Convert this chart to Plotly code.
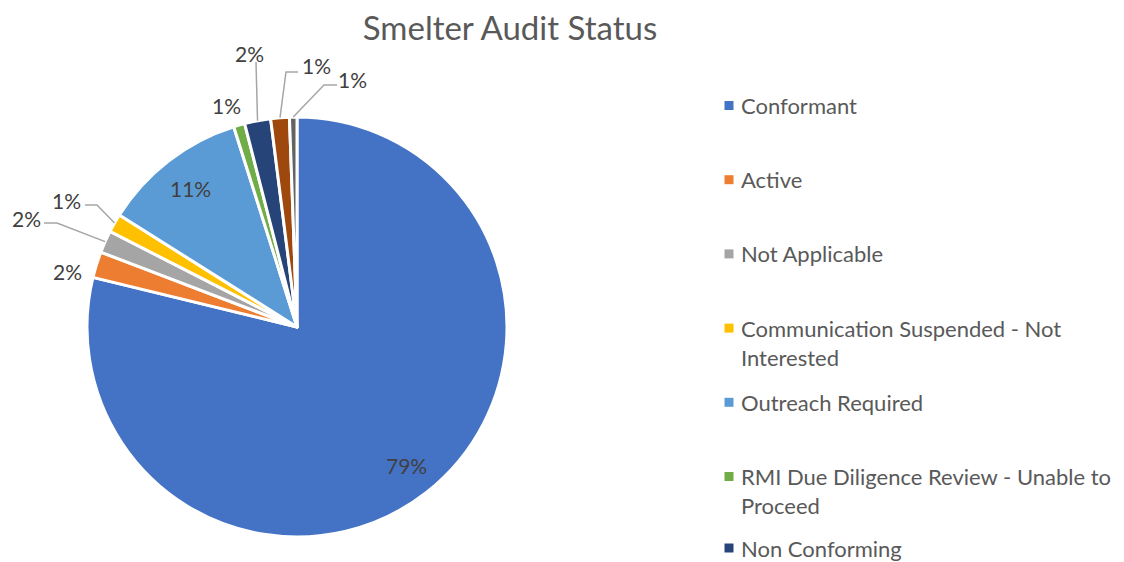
import math
import plotly.graph_objects as go

# ---- data ----
labels = [
    "Conformant",
    "Active",
    "Not Applicable",
    "Communication Suspended - Not Interested",
    "Outreach Required",
    "RMI Due Diligence Review - Unable to Proceed",
    "Non Conforming",
    "In Communication",
    "Not Eligible",
]
values = [275, 7, 6, 5, 39, 3, 7, 5, 2]
colors = ["#4472C4", "#ED7D31", "#A5A5A5", "#FFC000", "#5B9BD5",
          "#70AD47", "#264478", "#9E480E", "#636363"]
# legend entries as shown (the chart's legend is cut off after 7 items)
legend_labels = [
    "Conformant",
    "Active",
    "Not Applicable",
    "Communication Suspended - Not<br>Interested",
    "Outreach Required",
    "RMI Due Diligence Review - Unable to<br>Proceed",
    "Non Conforming",
]

# ---- layout (screen pixels; page has an 8px body margin at top/left) ----
SW, SH = 1124, 562
OFF = 8
W, H = SW - OFF, SH - OFF
FONT = "Lato"
TXT = "#404040"
LEG = "#595959"
LEADER = "#A6A6A6"


def px(x):
    return (x - OFF) / W


def py(y):
    return 1 - (y - OFF) / H


cx, cy, r = 297, 327, 210

# label placement per slice: ("in", radius factor) or ("out", label centre, leader elbow points)
label_layout = {
    0: ("in", 0.84),
    1: ("out", (67, 271), []),
    2: ("out", (26, 219), [(44, 223), (57, 223)]),
    3: ("out", (66, 200), [(85, 205), (97, 205)]),
    4: ("in", 0.83),
    5: ("out", (226, 106), []),
    6: ("out", (249, 53), [(256, 62)]),
    7: ("out", (316, 65), [(298, 72), (286, 72)]),
    8: ("out", (352, 80), [(337, 85), (324, 85)]),
}

fig = go.Figure()
fig.add_trace(go.Pie(
    labels=labels,
    values=values,
    sort=False,
    direction="clockwise",
    rotation=0,
    marker=dict(colors=colors, line=dict(color="white", width=3)),
    textinfo="none",
    showlegend=False,
    domain=dict(x=[px(cx - r), px(cx + r)],
                y=[py(cy + r), py(cy - r)]),
    hoverinfo="label+percent+value",
))

shapes = []
annotations = []

# data labels (percentages computed from the values)
total = sum(values)
cum = 0
for i, v in enumerate(values):
    frac_mid = (cum + v / 2) / total
    cum += v
    theta = 2 * math.pi * frac_mid
    pct = f"{round(100 * v / total)}%"
    spec = label_layout[i]
    if spec[0] == "in":
        k = spec[1]
        lx = cx + k * r * math.sin(theta)
        ly = cy - k * r * math.cos(theta)
    else:
        lx, ly = spec[1]
        pts = spec[2]
        if pts:
            ex = cx + r * math.sin(theta)
            ey = cy - r * math.cos(theta)
            allp = pts + [(ex, ey)]
            path = "M " + " L ".join(f"{px(a):.5f},{py(b):.5f}" for a, b in allp)
            shapes.append(dict(type="path", xref="paper", yref="paper",
                               path=path, line=dict(color=LEADER, width=1.5)))
    annotations.append(dict(text=pct, xref="paper", yref="paper",
                            x=px(lx), y=py(ly), xanchor="center",
                            yanchor="middle", showarrow=False,
                            font=dict(family=FONT, size=21, color=TXT)))

# legend drawn as layout decoration
first_line_y = [105.5, 179.7, 253.9, 328.1, 402.3, 476.5, 548.0]
line_h = 29
for i, lab in enumerate(legend_labels):
    y0 = first_line_y[i]
    shapes.append(dict(type="rect", xref="paper", yref="paper",
                       x0=px(724.5), x1=px(733.5),
                       y0=py(y0 + 4.5), y1=py(y0 - 4.5),
                       fillcolor=colors[i], line=dict(width=0)))
    annotations.append(dict(text=lab, xref="paper", yref="paper",
                            x=px(739), y=py(y0 - line_h / 2 - 1),
                            xanchor="left", yanchor="top", align="left",
                            showarrow=False,
                            font=dict(family=FONT, size=22, color=LEG)))

fig.update_layout(
    width=W, height=H,
    margin=dict(l=0, r=0, t=0, b=0),
    paper_bgcolor="white",
    plot_bgcolor="white",
    title=dict(text="Smelter Audit Status", x=px(510), y=py(28),
               xanchor="center", yanchor="middle",
               font=dict(family=FONT, size=33, color=LEG)),
    shapes=shapes,
    annotations=annotations,
)

fig.write_html("out.html")
